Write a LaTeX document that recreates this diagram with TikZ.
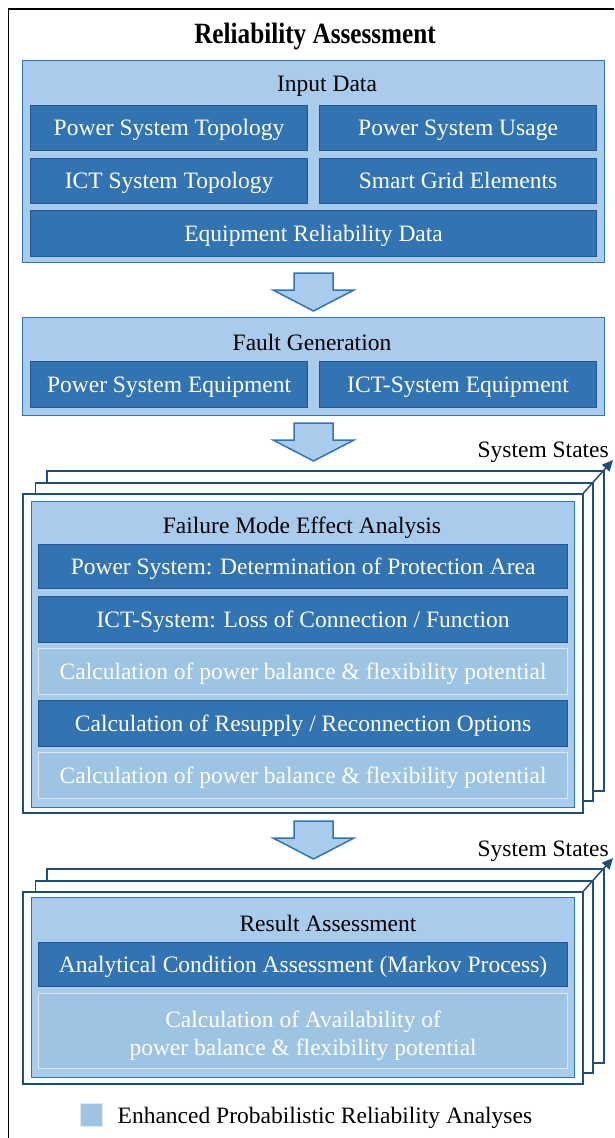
\documentclass[tikz,border=0pt]{standalone}
\usepackage{fontspec}
\usepackage{graphicx}
\setmainfont{Liberation Serif}
\usetikzlibrary{arrows.meta}
\definecolor{panelfill}{RGB}{169,204,237}
\definecolor{panelline}{RGB}{46,117,182}
\definecolor{darkfill}{RGB}{50,116,178}
\definecolor{darkline}{RGB}{38,86,145}
\definecolor{lightfill}{RGB}{158,196,228}
\definecolor{lightline}{RGB}{220,232,245}
\definecolor{navy}{RGB}{31,78,121}
\newcommand\mybox[7]{\node[#2, anchor=north west, minimum width={(#5)-(#3)}, minimum height={(#6)-(#4)}] (#1) at (#3,#4) {#7};}
\newcommand\blockarr[2]{\draw[blockarrow] (#1-19.5,#2) -- (#1+19.5,#2) -- (#1+19.5,#2+17) -- (#1+40.5,#2+17) -- (#1,#2+38) -- (#1-40.5,#2+17) -- (#1-19.5,#2+17) -- cycle;}
\begin{document}
\begin{tikzpicture}[x=1pt,y=-1pt,
  font=\fontsize{23.5}{28}\selectfont,
  frame/.style={draw=black, line width=1.5pt},
  panel/.style={draw=panelline, fill=panelfill, line width=1.2pt, inner sep=0pt},
  dbox/.style={draw=darkline, fill=darkfill, line width=1.2pt, text=white, inner sep=0pt, text height=15.6pt, text depth=0pt},
  lbox/.style={draw=lightline, fill=lightfill, line width=1.2pt, text=white, inner sep=0pt, text height=15.6pt, text depth=0pt},
  layer/.style={draw=navy, fill=white, line width=1.5pt, inner sep=0pt},
  header/.style={anchor=base, inner sep=0pt},
  blockarrow/.style={draw=panelline, fill=panelfill, line width=1.5pt, line join=miter},
  statearrow/.style={draw=navy, line width=1.5pt, -{Triangle[length=11pt,width=10pt]}},
  legendsq/.style={draw=lightline, fill=lightfill, line width=1pt, inner sep=0pt}
]
\useasboundingbox (0,0) rectangle (614,1138);
\begin{scope}
  \clip (0,0) rectangle (614,1138);
  \draw[frame] (8.5,9) rectangle (650,1170);
\end{scope}

\node[header] (title) at (315,43) {\fontsize{28}{30}\selectfont\bfseries\scalebox{0.9}[1.05]{Reliability Assessment}};

% Input data
\mybox{inp}{panel}{22}{60}{604}{262}{}
\node[header] (inph) at (327,91) {Input Data};
\mybox{pst}{dbox}{30}{105}{307}{150}{Power System Topology}
\mybox{psu}{dbox}{319}{105}{596}{150}{Power System Usage}
\mybox{ict}{dbox}{30}{158}{307}{203}{ICT System Topology}
\mybox{sge}{dbox}{319}{158}{596}{203}{Smart Grid Elements}
\mybox{erd}{dbox}{30}{210}{596}{256}{Equipment Reliability Data}

\blockarr{313.5}{273}

% Fault generation
\mybox{fg}{panel}{22}{317}{604}{415}{}
\node[header] (fgh) at (312,350) {Fault Generation};
\mybox{pse}{dbox}{30}{361}{307}{407}{Power System Equipment}
\mybox{ice}{dbox}{319}{361}{596}{407}{ICT-System Equipment}

\blockarr{313.5}{423}

% FMEA stack
\mybox{fmb}{layer}{46}{470}{603}{790}{}
\mybox{fmm}{layer}{34.5}{482}{592}{800}{}
\mybox{fmf}{layer}{22}{493}{582}{812}{}
\mybox{fm}{panel}{30.5}{501}{574}{807}{}
\node[header] (fmh) at (302,533) {Failure Mode Effect Analysis};
\mybox{fm1}{dbox}{38}{544}{567}{588}{Power System: Determination of Protection Area}
\mybox{fm2}{dbox}{38}{596}{567}{642}{ICT-System: Loss of Connection / Function}
\mybox{fm3}{lbox}{38}{648}{567}{694}{Calculation of power balance \& flexibility potential}
\mybox{fm4}{dbox}{38}{700}{567}{746}{Calculation of Resupply / Reconnection Options}
\mybox{fm5}{lbox}{38}{752}{567}{798}{Calculation of power balance \& flexibility potential}
\coordinate (tip1) at (613,460);
\draw[statearrow] (fmf.north east) -- (tip1);
\node[anchor=base east, inner sep=0pt] (ss1) at (609,457) {System States};

\blockarr{313.5}{821}

% Result stack
\mybox{rab}{layer}{46}{868}{603}{1062}{}
\mybox{ram}{layer}{34.5}{880}{592}{1072}{}
\mybox{raf}{layer}{22}{891}{582}{1083}{}
\mybox{ra}{panel}{30.5}{897}{574}{1077}{}
\node[header] (rah) at (328,931) {Result Assessment};
\mybox{ra1}{dbox}{38}{942}{567}{986}{Analytical Condition Assessment (Markov Process)}
\mybox{ra2}{lbox, align=center, text height=, text depth=}{38}{993}{567}{1068}{\rule{0pt}{26pt}Calculation of Availability of\\power balance \& flexibility potential}
\coordinate (tip2) at (613,858);
\draw[statearrow] (raf.north east) -- (tip2);
\node[anchor=base east, inner sep=0pt] (ss2) at (609,856) {System States};

% Legend
\mybox{lg}{legendsq}{80}{1103}{102}{1126}{}
\node[anchor=base west, inner sep=0pt] (lgt) at (117.5,1123) {Enhanced Probabilistic Reliability Analyses};
\end{tikzpicture}
\end{document}
